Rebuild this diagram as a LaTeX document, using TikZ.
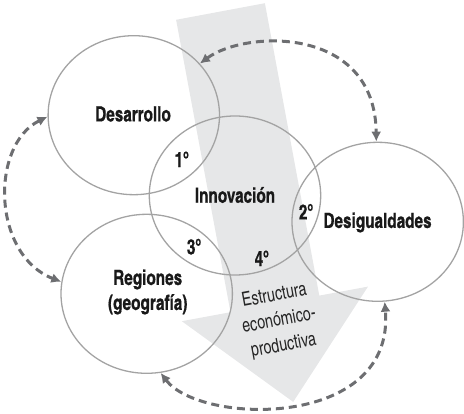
\documentclass[tikz,border=0pt]{standalone}
\usepackage{fontspec}
\setmainfont{texgyreheroscn}[Extension=.otf, UprightFont=*-regular, BoldFont=*-bold, ItalicFont=*-italic, BoldItalicFont=*-bolditalic, UprightFeatures={FakeStretch=0.9}, BoldFeatures={FakeStretch=0.89, FakeBold=0.6}]
\usetikzlibrary{shapes.geometric,arrows.meta}
\definecolor{circgray}{HTML}{A3A3A3}
\definecolor{dashgray}{HTML}{6D6E71}
\definecolor{arrowfill}{HTML}{E6E7E8}
\newcommand\ordo{\raisebox{8.6pt}{\fontsize{12.5}{12.5}\selectfont o}}
\tikzset{
  bigfont/.style={font=\bfseries\fontsize{21}{25}\selectfont},
  circ/.style={ellipse, draw=circgray, line width=1.3pt, minimum width=171.4pt, minimum height=159pt, inner sep=0pt},
  lbl/.style={inner sep=0pt, bigfont, align=center, text=black!90},
  ord/.style={inner sep=0pt, bigfont, text=black!90},
  dasharrow/.style={draw=dashgray, line width=3pt, dash pattern=on 8pt off 5pt, {Latex[length=10pt,width=10pt]}-{Latex[length=10pt,width=10pt]}},
  flowtext/.style={inner sep=0pt, align=center, font=\fontsize{19.5}{25.5}\selectfont, rotate=10.5, text=black!85},
}
\begin{document}
\begin{tikzpicture}[x=1pt,y=-1pt]
\useasboundingbox (0,0) rectangle (464,414);
% big background arrow
\fill[arrowfill] (176.1,19.8) -- (264.9,3.2) -- (319.3,295.6) -- (368,286.6) -- (293.2,401.9) -- (181.8,321.2) -- (230.5,312.2) -- cycle;
\node[flowtext] (flow) at (279,321) {Estructura\\económico-\\productiva};
% circles
\node[circ] (des) at (133.8,115.2) {};
\node[circ] (inn) at (235,195.5) {};
\node[circ] (desig) at (377.7,221.8) {};
\node[circ] (reg) at (146.7,293.8) {};
% labels
\node[lbl] (tdes) at (133,114) {Desarrollo};
\node[lbl] (tinn) at (235,195) {Innovación};
\node[lbl] (tdesig) at (377.5,222.5) {Desigualdades};
\node[lbl] (treg) at (147.7,292) {Regiones\\(geografía)};
% ordinals
\node[ord] (o1) at (181.7,159.3) {1\ordo};
\node[ord] (o2) at (306,211.7) {2\ordo};
\node[ord] (o3) at (194,246.7) {3\ordo};
\node[ord] (o4) at (261.7,258.3) {4\ordo};
% dashed arrows
\draw[dasharrow] (des.38) .. controls (245,30) and (375,25) .. (desig.91);
\draw[dasharrow] (des.181) .. controls (-10,145) and (-8,255) .. (reg.172);
\draw[dasharrow] (reg.-80) .. controls (200,425) and (395,430) .. (desig.-85);
\end{tikzpicture}
\end{document}
